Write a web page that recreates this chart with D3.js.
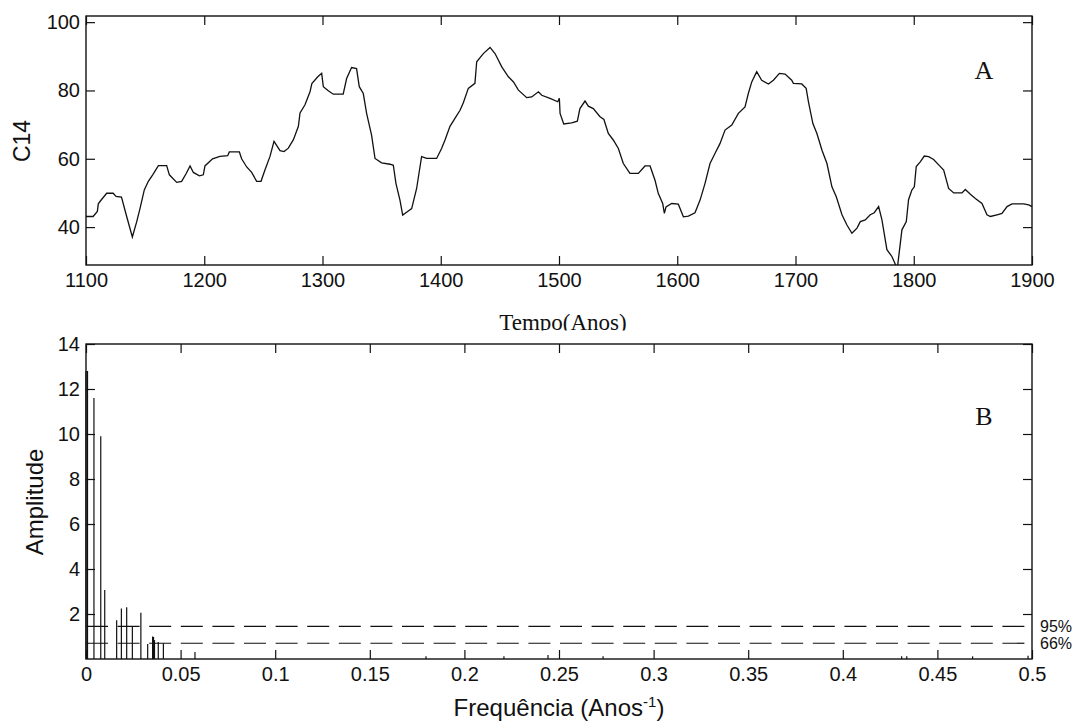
<!DOCTYPE html>
<html>
<head>
<meta charset="utf-8">
<script src="https://cdn.jsdelivr.net/npm/d3@7"></script>
<style>
  body { margin: 0; background: #fff; }
  svg text { font-family: "Liberation Sans", Arial, sans-serif; fill: #111; }
</style>
</head>
<body>
<svg id="chart" width="1080" height="724"></svg>
<script>
// panel A: C14 series
const years = [1100,1106,1109.6,1110.4,1113,1117.5,1123,1125.4,1130,1134.4,1139.2,1142.9,1145.7,1149.3,1152.7,1156.4,1161.2,1168.2,1170.5,1176.7,1180.9,1184.6,1188,1190.8,1195.9,1199.2,1200.6,1207,1213.3,1219.8,1221.2,1229.7,1231.6,1235.9,1240.1,1244.3,1248,1251.4,1255.6,1259,1264.1,1267.5,1271.1,1275.4,1279.6,1281,1285.2,1289.5,1291,1296,1299.3,1300.7,1304.9,1309.1,1317.5,1320.4,1324.6,1328.8,1331.1,1334.5,1337.3,1341.5,1344.4,1350,1357.1,1359.9,1362.1,1365.5,1367.8,1371.7,1375.4,1379.6,1383.8,1388.1,1396.5,1400.7,1403.6,1407.8,1412,1416.3,1419.1,1423.3,1428.9,1430.4,1436,1441.7,1445.9,1451.6,1457.2,1461.5,1465.7,1472.7,1476.9,1482.6,1485.4,1492.4,1498.9,1500.3,1500.9,1504,1510.7,1515.5,1517.7,1522,1524.8,1529,1534.7,1538,1541.7,1545.9,1550.2,1554.4,1560,1567.1,1572.7,1577,1581.2,1584,1587.7,1589.1,1590.5,1595.3,1600.9,1605.2,1609.4,1615,1619.3,1623.5,1627.7,1632,1636.2,1640.4,1646.1,1651.7,1657.3,1660.1,1663,1667.2,1671.4,1677.1,1681.3,1686.4,1691.2,1696.8,1698.2,1705.3,1709,1711,1714.7,1718.1,1722.4,1726.6,1730.8,1734.5,1739.3,1743.5,1747.7,1752,1754.8,1759,1763.2,1766.6,1770.3,1773.1,1777.3,1781.5,1785.2,1786.3,1790,1793.7,1795.6,1798.5,1800.5,1802.1,1805.5,1808.9,1812.6,1816.8,1821.1,1825.3,1829.5,1833.8,1840.8,1843.6,1847.9,1852.1,1857.7,1861.9,1864.8,1870.4,1874.6,1878.9,1883.1,1893,1897.2,1900];
const c14 = [43.1,43.1,44.6,46.8,48.0,49.9,49.9,49.0,48.8,43.1,37.1,41.6,45.5,50.9,53.4,55.3,58.0,58.0,55.3,53.1,53.4,55.6,57.9,56.0,55.0,55.3,57.9,60.0,60.7,60.9,62.0,62.0,60.0,57.6,56.0,53.4,53.4,56.8,60.7,65.1,62.4,62.1,63.1,65.6,69.5,73.4,75.8,79.7,82.0,84.0,85.0,81.1,79.9,78.9,78.9,83.5,86.7,86.4,81.1,79.1,73.3,66.9,60.1,58.8,58.4,58.1,52.8,47.9,43.5,44.5,45.4,51.3,60.6,60.1,60.1,63.0,65.5,69.5,71.8,74.2,76.4,80.6,82.1,88.4,90.8,92.6,90.8,86.9,84.0,82.5,80.1,77.9,78.1,79.6,78.6,77.7,76.7,77.7,73.3,70.2,70.5,71.0,74.7,76.9,75.4,74.7,72.3,71.5,67.4,65.5,63.0,58.6,55.7,55.7,57.9,57.9,53.7,49.8,46.9,44.0,45.9,46.9,46.7,43.0,43.2,44.2,47.9,52.8,58.6,61.6,64.5,68.4,69.9,73.3,75.2,79.1,82.5,85.5,83.0,81.9,83.0,85.0,84.8,83.0,82.1,81.9,80.6,76.6,70.3,67.4,62.5,58.6,51.8,48.9,43.6,40.6,38.2,39.7,41.6,42.1,43.6,44.2,46.0,42.1,33.4,31.4,28.5,28.5,39.2,41.6,48.0,50.9,51.8,57.7,59.1,60.8,60.6,59.8,58.2,56.7,51.3,50.0,50.0,51.0,49.6,48.4,46.9,43.6,43.1,43.6,44.0,46.0,46.8,46.8,46.5,46.0];
const yearTicks = [1100,1200,1300,1400,1500,1600,1700,1800,1900];
const c14Ticks = [40,60,80,100];

// panel B: amplitude spectrum
const freqs = [0,0.0008,0.0042,0.0078,0.0099,0.0162,0.0187,0.0215,0.0245,0.029,0.0326,0.0352,0.0357,0.0362,0.0382,0.0409,0.0576,0.1797,0.2209,0.2442,0.2733,0.4311,0.4338,0.4686,0.4979];
const amps = [12.8,12.8,11.6,9.9,3.07,1.72,2.25,2.3,1.46,2.06,0.67,1.0,0.98,0.84,0.76,0.7,0.31,0.12,0.12,0.18,0.12,0.12,0.12,0.12,0.15];
const freqTicks = [0,0.05,0.1,0.15,0.2,0.25,0.3,0.35,0.4,0.45,0.5];
const ampTicks = [2,4,6,8,10,12,14];
const levels = [1.45, 0.70];
const levelNames = ["95%", "66%"];

const svg = d3.select("#chart");
const L = 86, R = 1032;

function panel(x, y, xt, yt, xfmt, top, bottom) {
  const g = svg.append("g");
  g.append("g").attr("transform", `translate(0,${bottom})`)
    .call(d3.axisBottom(x).tickValues(xt).tickFormat(xfmt).tickSize(-9).tickSizeOuter(0).tickPadding(8));
  g.append("g").attr("transform", `translate(0,${top})`)
    .call(d3.axisTop(x).tickValues(xt).tickFormat("").tickSize(-9).tickSizeOuter(0));
  g.append("g").attr("transform", `translate(${L},0)`)
    .call(d3.axisLeft(y).tickValues(yt).tickSize(-9).tickSizeOuter(0).tickPadding(6));
  g.append("g").attr("transform", `translate(${R},0)`)
    .call(d3.axisRight(y).tickValues(yt).tickFormat("").tickSize(-9).tickSizeOuter(0));
  g.selectAll(".domain").remove();
  g.selectAll(".tick line").attr("stroke", "#111").attr("stroke-width", 1.2);
  g.selectAll(".tick text").style("font-size", "20px").attr("fill", "#111");
  g.append("rect").attr("x", L).attr("y", top).attr("width", R - L).attr("height", bottom - top)
    .attr("fill", "none").attr("stroke", "#111").attr("stroke-width", 1.4);
  return g;
}

// ---- panel A
const xA = d3.scaleLinear().domain([1100, 1900]).range([L, R]);
const yA = d3.scaleLinear().domain([28.9, 101.8]).range([265, 16]);
const gA = panel(xA, yA, yearTicks, c14Ticks, d3.format("d"), 16, 265);

svg.append("clipPath").attr("id", "clipA").append("rect")
  .attr("x", L).attr("y", 16).attr("width", R - L).attr("height", 249);
svg.append("path")
  .datum(d3.zip(years, c14))
  .attr("clip-path", "url(#clipA)")
  .attr("fill", "none").attr("stroke", "#111").attr("stroke-width", 1.3)
  .attr("d", d3.line().x(d => xA(d[0])).y(d => yA(d[1])));

svg.append("text").attr("transform", `translate(22,141) rotate(-90)`)
  .attr("text-anchor", "middle").attr("dy", "0.35em").style("font-size", "23px").text("C14");
svg.append("text").attr("x", 984).attr("y", 79).attr("text-anchor", "middle")
  .style("font-family", "'Liberation Serif', 'Times New Roman', serif").style("font-size", "26px").text("A");

svg.append("clipPath").attr("id", "clipT").append("rect")
  .attr("x", 0).attr("y", 0).attr("width", 1080).attr("height", 330.5);
svg.append("text").attr("x", 563).attr("y", 330).attr("text-anchor", "middle")
  .attr("clip-path", "url(#clipT)")
  .style("font-family", "'Liberation Serif', 'Times New Roman', serif").style("font-size", "23px")
  .text("Tempo(Anos)");

// ---- panel B
const xB = d3.scaleLinear().domain([0, 0.5]).range([L, R]);
const yB = d3.scaleLinear().domain([0, 14]).range([659, 344]);
const gB = panel(xB, yB, freqTicks, ampTicks, d => d3.format("")(+d.toFixed(2)), 344, 659);

svg.append("g").selectAll("line").data(d3.zip(freqs, amps)).join("line")
  .attr("x1", d => xB(d[0])).attr("x2", d => xB(d[0]))
  .attr("y1", yB(0)).attr("y2", d => yB(d[1]))
  .attr("stroke", "#111").attr("stroke-width", 1.2);

svg.append("g").selectAll("line").data(levels).join("line")
  .attr("x1", L).attr("x2", R)
  .attr("y1", d => yB(d)).attr("y2", d => yB(d))
  .attr("stroke", "#111").attr("stroke-width", 1.2).attr("stroke-dasharray", "22,9.6");

svg.append("g").selectAll("text").data(levels).join("text")
  .attr("x", 1040).attr("y", d => yB(d)).attr("dy", "0.36em")
  .style("font-size", "16px").attr("fill", "#222")
  .text((d, i) => levelNames[i]);

svg.append("text").attr("transform", `translate(35,502) rotate(-90)`)
  .attr("text-anchor", "middle").attr("dy", "0.35em").style("font-size", "24px").text("Amplitude");
svg.append("text").attr("x", 984).attr("y", 425).attr("text-anchor", "middle")
  .style("font-family", "'Liberation Serif', 'Times New Roman', serif").style("font-size", "26px").text("B");

const ft = svg.append("text").attr("x", 559).attr("y", 716).attr("text-anchor", "middle").style("font-size", "24px");
ft.append("tspan").text("Frequência (Anos");
ft.append("tspan").attr("dy", "-9").style("font-size", "15px").text("-1");
ft.append("tspan").attr("dy", "9").text(")");
</script>
</body>
</html>
